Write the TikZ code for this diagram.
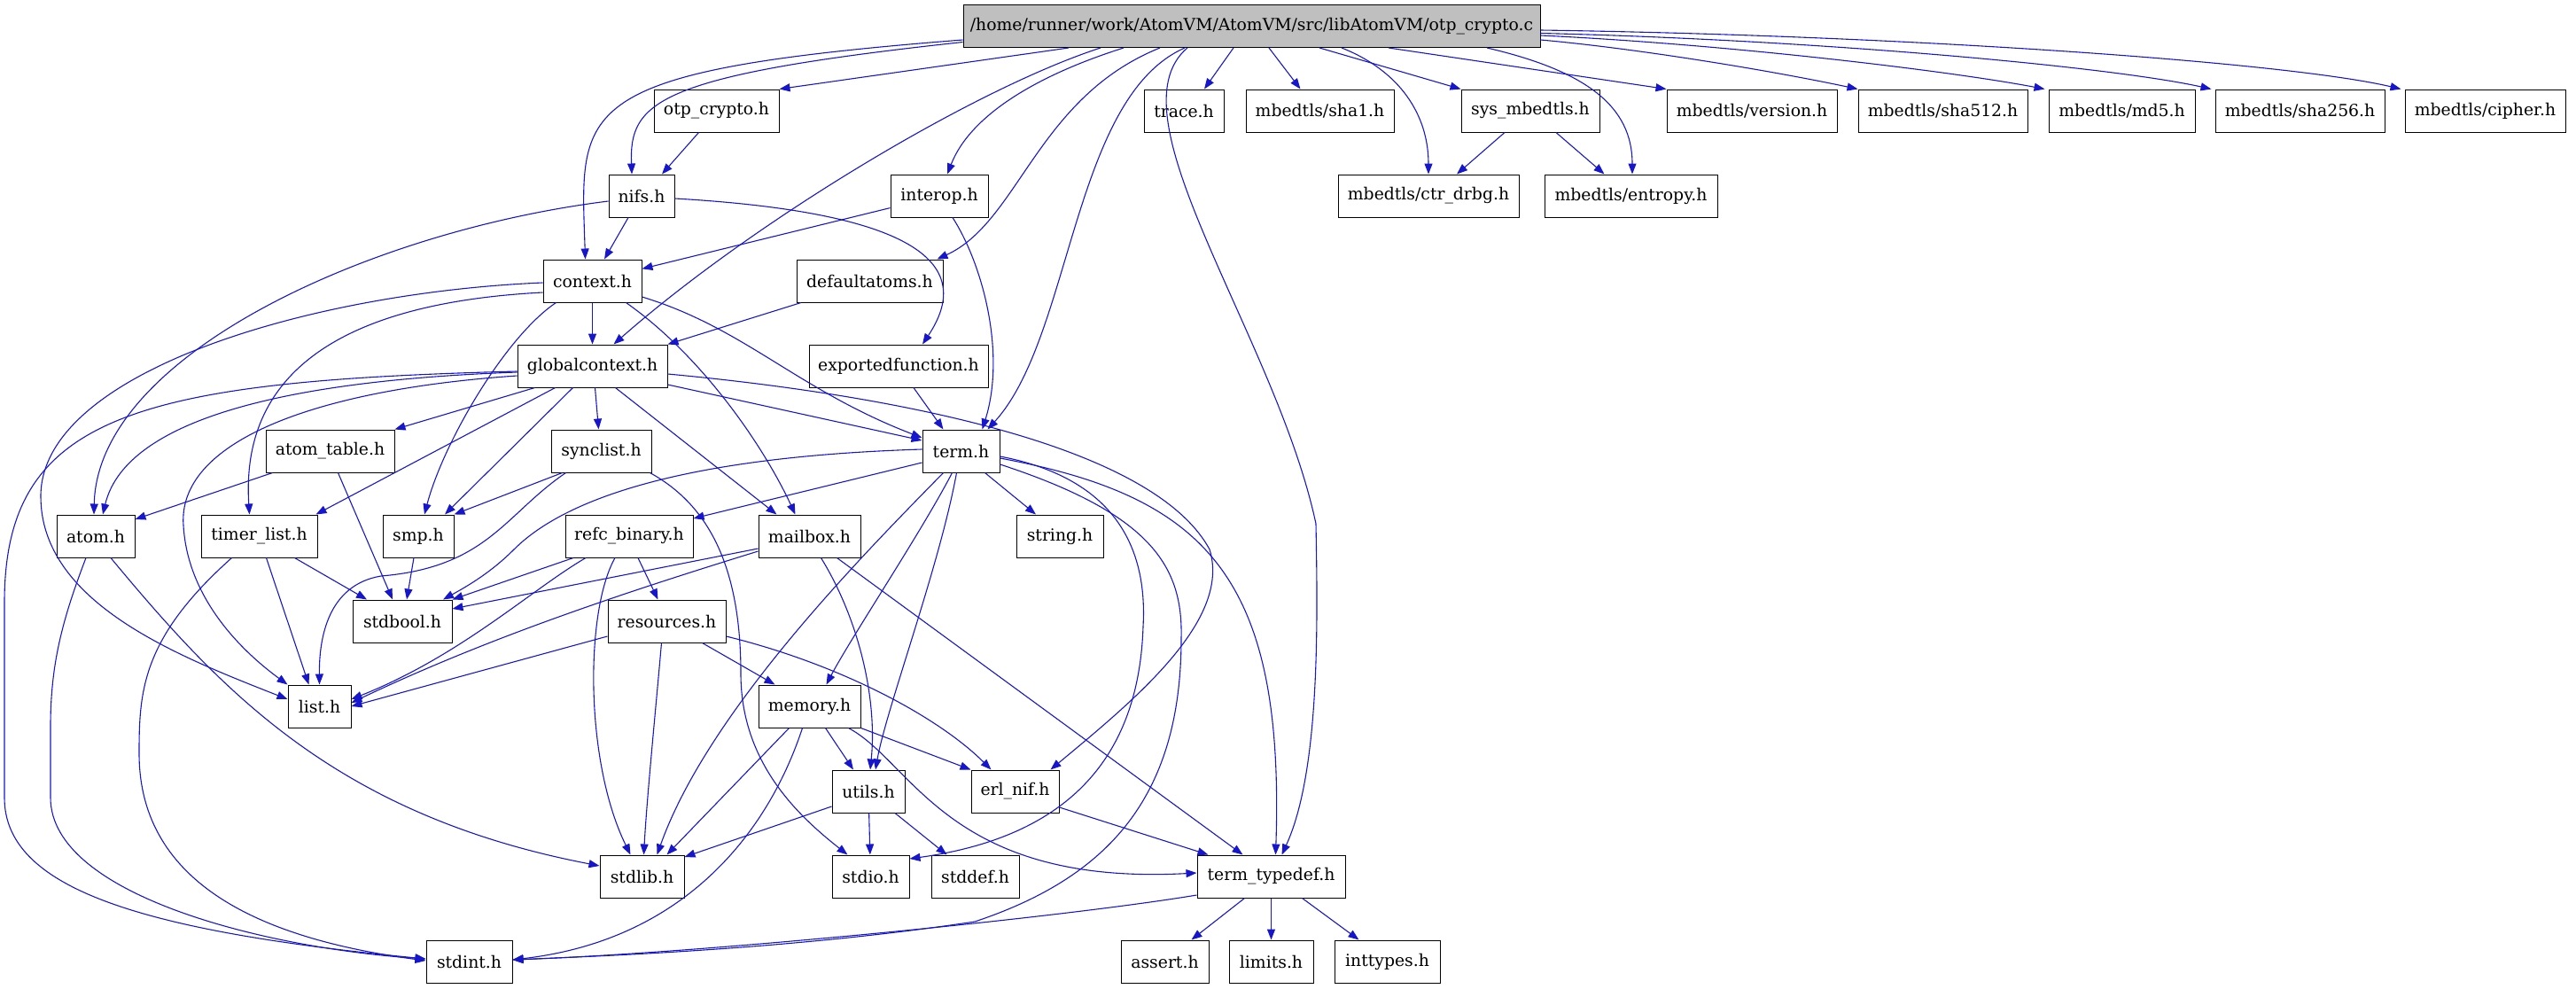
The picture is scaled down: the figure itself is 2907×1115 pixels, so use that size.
\documentclass[tikz,border=0pt]{standalone}
\usepackage{fontspec}
\setmainfont{DejaVu Serif}
\usetikzlibrary{arrows.meta}
\definecolor{edgeblue}{RGB}{22,22,205}
\definecolor{maingray}{RGB}{191,191,191}
\begin{document}
\begin{tikzpicture}[x=1bp,y=-1bp,
  box/.style={draw=black,line width=1bp,minimum height=48bp,inner sep=0pt,
    font=\fontsize{18.8bp}{22bp}\selectfont},
  e/.style={draw=edgeblue,line width=1.1bp,-{Triangle[length=12bp,width=9bp]}}]
\useasboundingbox (0,0) rectangle (2907,1115);
% nodes
\node[box,fill=maingray,minimum width=651bp] (main) at (1412.5,29.5) {/home/runner/work/AtomVM/AtomVM/src/libAtomVM/otp\_crypto.c};
\node[box,minimum width=141bp] (otp) at (808.5,125) {otp\_crypto.h};
\node[box,minimum width=90bp] (trace) at (1336,125) {trace.h};
\node[box,minimum width=167bp] (sha1) at (1489.5,125) {mbedtls/sha1.h};
\node[box,minimum width=156bp] (sysm) at (1727,125) {sys\_mbedtls.h};
\node[box,minimum width=192bp] (version) at (1977,125) {mbedtls/version.h};
\node[box,minimum width=191bp] (sha512) at (2192.5,125) {mbedtls/sha512.h};
\node[box,minimum width=165bp] (md5) at (2394.5,125) {mbedtls/md5.h};
\node[box,minimum width=191bp] (sha256) at (2595.5,125) {mbedtls/sha256.h};
\node[box,minimum width=181bp] (cipher) at (2804.5,125) {mbedtls/cipher.h};
\node[box,minimum width=74bp] (nifs) at (724,221) {nifs.h};
\node[box,minimum width=110bp] (interop) at (1060,221) {interop.h};
\node[box,minimum width=204bp] (ctr) at (1612,221) {mbedtls/ctr\_drbg.h};
\node[box,minimum width=195bp] (entropy) at (1840.5,221) {mbedtls/entropy.h};
\node[box,minimum width=111bp] (context) at (668.5,317) {context.h};
\node[box,minimum width=165bp] (defaultatoms) at (981.5,317) {defaultatoms.h};
\node[box,minimum width=169bp] (gc) at (668.5,413) {globalcontext.h};
\node[box,minimum width=202bp] (ef) at (1014,413) {exportedfunction.h};
\node[box,minimum width=145bp] (atomtable) at (372.5,509) {atom\_table.h};
\node[box,minimum width=113bp] (synclist) at (678.5,509) {synclist.h};
\node[box,minimum width=87bp] (term) at (1084.5,509) {term.h};
\node[box,minimum width=88bp] (atom) at (108,605) {atom.h};
\node[box,minimum width=131bp] (timer) at (292.5,605) {timer\_list.h};
\node[box,minimum width=80bp] (smp) at (472,605) {smp.h};
\node[box,minimum width=144bp] (refc) at (710,605) {refc\_binary.h};
\node[box,minimum width=115bp] (mailbox) at (913.5,605) {mailbox.h};
\node[box,minimum width=98bp] (string) at (1196,605) {string.h};
\node[box,minimum width=112bp] (stdbool) at (454,701) {stdbool.h};
\node[box,minimum width=133bp] (resources) at (752.5,701) {resources.h};
\node[box,minimum width=71bp] (list) at (360.5,797) {list.h};
\node[box,minimum width=115bp] (memory) at (913.5,797) {memory.h};
\node[box,minimum width=82bp] (utils) at (980,893) {utils.h};
\node[box,minimum width=99bp] (erlnif) at (1145.5,893) {erl\_nif.h};
\node[box,minimum width=95bp] (stdlib) at (724.5,989) {stdlib.h};
\node[box,minimum width=87bp] (stdio) at (982.5,989) {stdio.h};
\node[box,minimum width=99bp] (stddef) at (1100.5,989) {stddef.h};
\node[box,minimum width=167bp] (ttd) at (1434.5,989) {term\_typedef.h};
\node[box,minimum width=97bp] (stdint) at (529.5,1085) {stdint.h};
\node[box,minimum width=99bp] (assert) at (1314.5,1085) {assert.h};
\node[box,minimum width=95bp] (limits) at (1434.5,1085) {limits.h};
\node[box,minimum width=119bp] (inttypes) at (1565.5,1085) {inttypes.h};
% main edges
\draw[e] ([xshift=-206.5bp]main.south) -- (otp.north east);
\draw[e] ([yshift=-18bp]main.west) .. controls (740,85) and (710,115) .. ([xshift=-11bp]nifs.north);
\draw[e] ([yshift=-15.5bp]main.west) .. controls (640,80) and (655,120) .. ([xshift=-8bp]context.north);
\draw[e] ([xshift=-170.5bp]main.south) .. controls (1100,100) and (850,250) .. ([xshift=24bp]gc.north);
\draw[e] ([xshift=-144.5bp]main.south) .. controls (1170,85) and (1095,130) .. ([xshift=9bp]interop.north);
\draw[e] ([xshift=-103.5bp]main.south) .. controls (1170,110) and (1150,250) .. ([xshift=-7bp]defaultatoms.north east);
\draw[e] ([xshift=-75.5bp]main.south) .. controls (1210,110) and (1210,380) .. ([xshift=30bp]term.north);
\draw[e] ([xshift=-72.5bp]main.south) .. controls (1250,130) and (1440,380) .. (1485,591) .. controls (1487,700) and (1490,870) .. ([xshift=12bp]ttd.north);
\draw[e] ([xshift=-20.5bp]main.south) -- ([xshift=23bp]trace.north);
\draw[e] ([xshift=19.5bp]main.south) -- ([xshift=-22bp]sha1.north);
\draw[e] ([xshift=76.5bp]main.south) -- (sysm.north west);
\draw[e] ([xshift=101.5bp]main.south) .. controls (1580,80) and (1612,130) .. (ctr.north);
\draw[e] ([xshift=154.5bp]main.south) -- (version.north west);
\draw[e] ([xshift=265.5bp]main.south) .. controls (1790,80) and (1842,120) .. ([xshift=1.5bp]entropy.north);
\draw[e] ([yshift=-15.5bp]main.east) .. controls (1850,55) and (2000,80) .. (sha512.north west);
\draw[e] ([yshift=-10.5bp]main.east) .. controls (1950,50) and (2200,80) .. ([xshift=-4bp]md5.north west);
\draw[e] ([yshift=-8bp]main.east) .. controls (2050,45) and (2380,75) .. ([xshift=-4bp]sha256.north west);
\draw[e] ([yshift=-4.5bp]main.east) .. controls (2150,40) and (2580,70) .. ([xshift=-4bp]cipher.north west);
% second level
\draw[e] ([xshift=-20bp]otp.south) -- ([xshift=23bp]nifs.north);
\draw[e] ([xshift=-15bp]nifs.south) -- ([xshift=13.5bp]context.north);
\draw[e] ([yshift=-6bp]nifs.west) .. controls (420,260) and (110,400) .. ([xshift=-2bp]atom.north);
\draw[e] ([yshift=-3bp]nifs.east) .. controls (1040,240) and (1100,300) .. ([xshift=27bp]ef.north);
\draw[e] (interop) -- (context);
\draw[e] ([xshift=15bp]interop.south) .. controls (1110,300) and (1135,400) .. ([xshift=24bp]term.north);
\draw[e] ([xshift=-77.5bp]defaultatoms.south) -- (gc.north east);
\draw[e] ([xshift=17bp]ef.south) -- ([xshift=-20bp]term.north);
\draw[e] ([xshift=-29bp]sysm.south) -- ([xshift=32bp]ctr.north);
\draw[e] ([xshift=29bp]sysm.south) -- ([xshift=-30bp]entropy.north);
% context
\draw[e] (context) -- (gc);
\draw[e] ([xshift=-41bp]context.south) .. controls (570,380) and (500,500) .. ([xshift=7bp]smp.north);
\draw[e] ([xshift=38bp]context.south) .. controls (790,400) and (860,500) .. ([xshift=-16bp]mailbox.north);
\draw[e] ([yshift=-18bp]context.east) .. controls (840,370) and (900,440) .. ([yshift=15bp]term.west);
\draw[e] ([yshift=-2bp]context.west) .. controls (350,330) and (46,420) .. (46,560) .. controls (46,680) and (200,740) .. ([yshift=8bp]list.west);
\draw[e] ([yshift=-13bp]context.west) .. controls (420,340) and (270,400) .. ([xshift=-11bp]timer.north);
% globalcontext
\draw[e] ([yshift=-7bp]gc.west) .. controls (300,430) and (140,480) .. ([xshift=8bp]atom.north);
\draw[e] ([yshift=-6bp]gc.west) .. controls (150,430) and (5,470) .. (5,680) -- (5,900) .. controls (5,1000) and (150,1050) .. ([yshift=3bp]stdint.west);
\draw[e] ([yshift=-11bp]gc.west) .. controls (350,440) and (200,500) .. (207,593) .. controls (212,680) and (280,740) .. (list.north west);
\draw[e] ([xshift=-65bp]gc.south) -- (atomtable.north east);
\draw[e] ([xshift=-42bp]gc.south) -- ([xshift=64bp]timer.north);
\draw[e] ([xshift=-22bp]gc.south) -- ([xshift=30bp]smp.north);
\draw[e] ([xshift=3bp]gc.south) -- ([xshift=-3bp]synclist.north);
\draw[e] ([xshift=26bp]gc.south) -- ([xshift=-37bp]mailbox.north);
\draw[e] ([yshift=-21bp]gc.east) -- ([yshift=12bp]term.west);
\draw[e] ([yshift=-9bp]gc.east) .. controls (1000,445) and (1300,500) .. (1365,620) .. controls (1390,700) and (1280,790) .. ([xshift=40bp]erlnif.north);
% atom_table, synclist
\draw[e] ([xshift=-65bp]atomtable.south) -- ([yshift=19bp]atom.east);
\draw[e] ([xshift=9bp]atomtable.south) -- ([xshift=-11bp]stdbool.north);
\draw[e] ([xshift=-44bp]synclist.south) -- (smp.north east);
\draw[e] ([xshift=-40bp]synclist.south) .. controls (570,580) and (550,640) .. (430,650) .. controls (370,660) and (360,720) .. (list.north);
\draw[e] ([xshift=55bp]synclist.south) .. controls (800,570) and (836,640) .. (836,760) .. controls (836,860) and (900,920) .. ([xshift=-26bp]stdio.north);
% term
\draw[e] ([yshift=-13bp]term.west) -- ([yshift=20bp]refc.east);
\draw[e] ([yshift=2bp]term.west) .. controls (780,515) and (640,560) .. (580,620) .. controls (555,645) and (530,660) .. ([xshift=46bp]stdbool.north);
\draw[e] ([xshift=27bp]term.south) -- ([xshift=-27bp]string.north);
\draw[e] ([xshift=-10bp]term.south) .. controls (1040,600) and (960,720) .. ([xshift=19bp]memory.north);
\draw[e] ([xshift=-20bp]term.south) .. controls (980,620) and (800,800) .. ([xshift=17bp]stdlib.north);
\draw[e] ([xshift=-5bp]term.south) .. controls (1060,640) and (1000,800) .. ([xshift=8bp]utils.north);
\draw[e] ([yshift=-6bp]term.east) .. controls (1260,540) and (1295,620) .. (1290,707) .. controls (1285,860) and (1200,945) .. ([yshift=20bp]stdio.east);
\draw[e] ([yshift=-8bp]term.east) .. controls (1360,560) and (1450,650) .. ([xshift=5bp]ttd.north);
\draw[e] ([yshift=-15bp]term.east) .. controls (1300,580) and (1335,640) .. (1333,720) .. controls (1333,900) and (1250,990) .. (1100,1040) .. controls (900,1070) and (700,1078) .. ([yshift=2bp]stdint.east);
% refc_binary, mailbox
\draw[e] ([xshift=-63bp]refc.south) -- (stdbool.north east);
\draw[e] ([xshift=-49bp]refc.south) .. controls (600,665) and (520,740) .. ([yshift=8bp]list.east);
\draw[e] ([xshift=10bp]refc.south) -- ([xshift=-10bp]resources.north);
\draw[e] ([xshift=-16bp]refc.south) .. controls (660,690) and (660,860) .. ([xshift=-13bp]stdlib.north);
\draw[e] ([yshift=-14bp]mailbox.west) -- ([yshift=14bp]stdbool.east);
\draw[e] ([yshift=-17bp]mailbox.west) .. controls (700,670) and (550,720) .. ([yshift=4bp]list.east);
\draw[e] ([xshift=13bp]mailbox.south) .. controls (970,700) and (990,790) .. ([xshift=2bp]utils.north);
\draw[e] ([xshift=31bp]mailbox.south) -- ([xshift=-32bp]ttd.north);
% resources
\draw[e] ([yshift=-17bp]resources.west) -- (list.east);
\draw[e] ([xshift=40bp]resources.south) -- ([xshift=-39bp]memory.north);
\draw[e] ([yshift=-17bp]resources.east) .. controls (950,750) and (1060,810) .. ([xshift=-27bp]erlnif.north);
\draw[e] ([xshift=-6bp]resources.south) .. controls (740,800) and (730,900) .. ([xshift=2bp]stdlib.north);
% memory
\draw[e] ([xshift=18bp]memory.south) -- ([xshift=-17bp]utils.north);
\draw[e] (memory.south east) -- (erlnif.north west);
\draw[e] ([xshift=44bp]memory.south) .. controls (1030,860) and (1070,1000) .. ([yshift=4bp]ttd.west);
\draw[e] ([xshift=-23bp]memory.south) -- ([xshift=28bp]stdlib.north);
\draw[e] ([xshift=-8bp]memory.south) .. controls (870,930) and (780,1060) .. ([yshift=2bp]stdint.east);
% utils, erl_nif, term_typedef
\draw[e] ([yshift=-17bp]utils.west) -- ([yshift=22bp]stdlib.east);
\draw[e] (utils) -- (stdio);
\draw[e] ([xshift=30bp]utils.south) -- ([xshift=-32bp]stddef.north);
\draw[e] ([yshift=-18bp]erlnif.east) -- ([xshift=-71bp]ttd.north);
\draw[e] ([yshift=-21bp]ttd.west) .. controls (1200,1035) and (800,1075) .. ([yshift=2bp]stdint.east);
\draw[e] ([xshift=-30bp]ttd.south) -- ([xshift=30bp]assert.north);
\draw[e] (ttd) -- (limits);
\draw[e] ([xshift=35bp]ttd.south) -- ([xshift=-32bp]inttypes.north);
% atom, timer_list, smp
\draw[e] ([xshift=-11bp]atom.south) .. controls (70,700) and (57,750) .. (57,820) -- (57,900) .. controls (57,1010) and (300,1070) .. ([yshift=3bp]stdint.west);
\draw[e] ([xshift=17bp]atom.south) .. controls (250,780) and (380,920) .. ([yshift=12bp]stdlib.west);
\draw[e] ([xshift=40bp]timer.south) -- ([xshift=-40bp]stdbool.north);
\draw[e] ([xshift=8bp]timer.south) -- ([xshift=-12bp]list.north);
\draw[e] ([xshift=-31bp]timer.south) .. controls (160,720) and (157,780) .. (157,850) .. controls (157,1000) and (300,1060) .. ([yshift=1bp]stdint.west);
\draw[e] ([xshift=-5bp]smp.south) -- ([xshift=5bp]stdbool.north);
\end{tikzpicture}
\end{document}
